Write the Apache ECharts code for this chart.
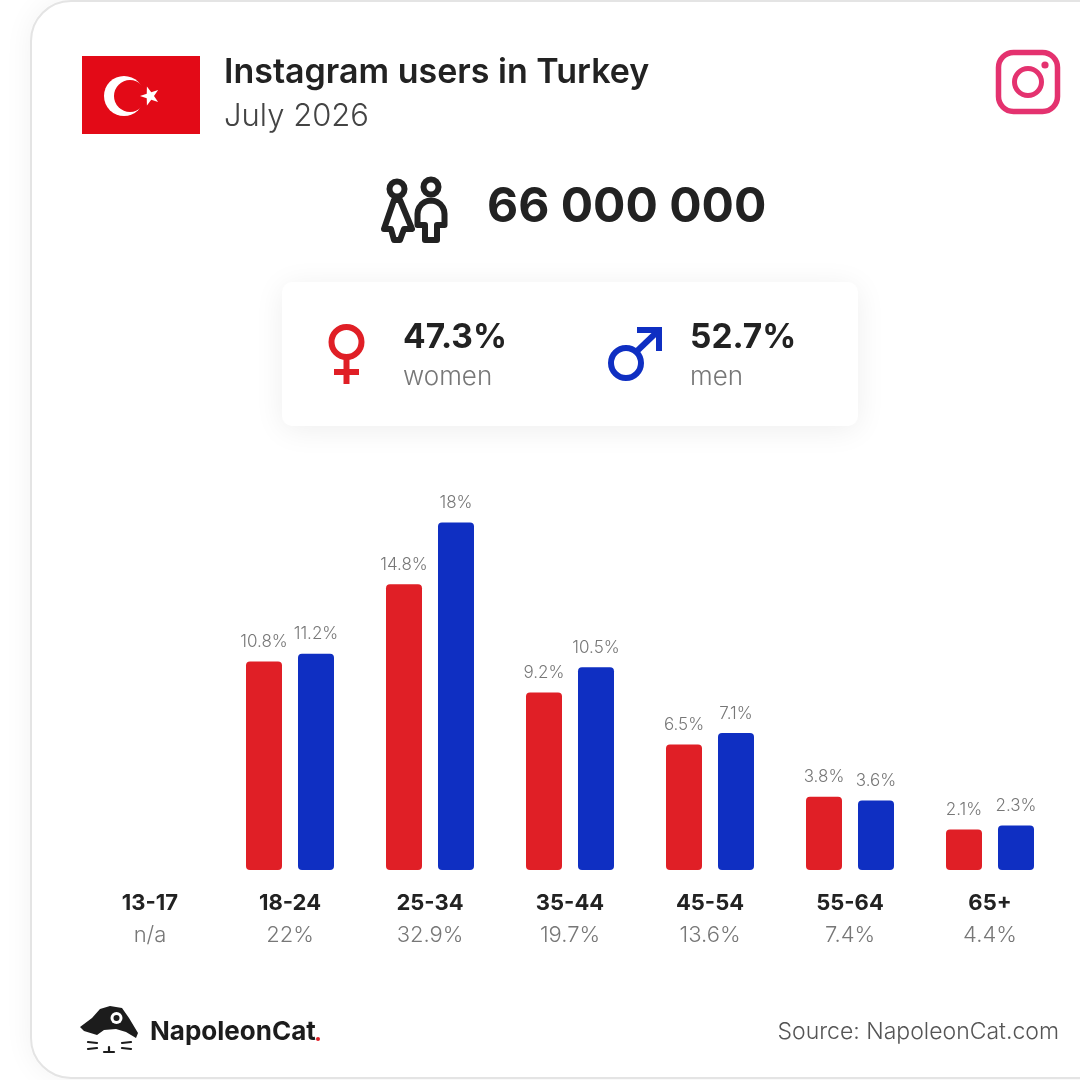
<!DOCTYPE html>
<html><head><meta charset="utf-8">
<style>html,body{margin:0;padding:0;background:#fff}#c{width:1080px;height:1080px}</style>
<script src="https://cdn.jsdelivr.net/npm/echarts@6/dist/echarts.min.js"></script>
</head><body><div id="c"></div>
<script>
const categories = ['13-17','18-24','25-34','35-44','45-54','55-64','65+'];
const shares = ['n/a','22%','32.9%','19.7%','13.6%','7.4%','4.4%'];
const women = [null,10.8,14.8,9.2,6.5,3.8,2.1];
const men = [null,11.2,18,10.5,7.1,3.6,2.3];
const womenShare = '47.3%', menShare = '52.7%', total = '66 000 000';

const RED='#e01f26', BLUE='#0f2fc2', DARK='#222222', GREY='#777777';
const FB='Inter, "Open Sans", sans-serif';
const chart = echarts.init(document.getElementById('c'), null, {renderer:'canvas', width:1080, height:1080});

function star(cx,cy,R,r,a0){const p=[];for(let i=0;i<10;i++){const a=a0+i*Math.PI/5,q=i%2?r:R;p.push([cx+q*Math.cos(a),cy+q*Math.sin(a)]);}return p;}
function txt(x,y,text,size,weight,fill,align){return {type:'text',x,y,style:{text,font:weight+' '+size+'px '+FB,fill,textAlign:align||'left',textVerticalAlign:'middle'}};}
function seg(x1,y1,x2,y2,stroke,w){return {type:'line',shape:{x1,y1,x2,y2},style:{stroke,lineWidth:w,lineCap:'round'}};}
function poly(points,style,smooth){return {type:'polygon',shape:{points,smooth:smooth||0},style};}
// man's shoulders: points round a half circle from left to right
const shoulders=[];for(let i=0;i<=12;i++){const a=Math.PI+i*Math.PI/12;shoulders.push([431+13.5*Math.cos(a),214+13.5*Math.sin(a)]);}

const graphics = [
 {type:'rect',shape:{x:31,y:1,width:1120,height:1077,r:40},style:{fill:'#fff',stroke:'#e4e4e4',lineWidth:2,shadowBlur:30,shadowColor:'rgba(0,0,0,0.06)'}},
 {type:'rect',shape:{x:82,y:56,width:118,height:78},style:{fill:'#e30a17'}},
 {type:'circle',shape:{cx:124,cy:96,r:20},style:{fill:'#fff'}},
 {type:'circle',shape:{cx:130,cy:96,r:16},style:{fill:'#e30a17'}},
 {type:'polygon',shape:{points:star(150,96,10,4,Math.PI)},style:{fill:'#fff'}},
 txt(224,73,'Instagram users in Turkey',34,600,DARK),
 txt(224,117,'July 2026',31,300,'#444'),
 {type:'rect',shape:{x:998.5,y:52.5,width:59,height:59,r:15},style:{fill:'none',stroke:'#e4326f',lineWidth:5.5}},
 {type:'circle',shape:{cx:1028,cy:82,r:13.5},style:{fill:'none',stroke:'#e4326f',lineWidth:5}},
 {type:'circle',shape:{cx:1045,cy:65,r:3.6},style:{fill:'#e4326f'}},
 // people icon
 {type:'circle',shape:{cx:397,cy:189,r:7.5},style:{fill:'none',stroke:DARK,lineWidth:6}},
 {type:'circle',shape:{cx:431,cy:187,r:7.5},style:{fill:'none',stroke:DARK,lineWidth:6}},
 poly([[394,200],[400,200],[412,229],[404,229],[400,240],[394,240],[391,229],[384,229]],{fill:'none',stroke:DARK,lineWidth:6,lineJoin:'round'}),
 poly([[425,225],[417.5,225],...shoulders,[444.5,225],[437,225],[437,240],[425,240]],{fill:'none',stroke:DARK,lineWidth:6,lineJoin:'round'}),
 txt(487,208,total,48,700,DARK),
 // stats card
 {type:'rect',shape:{x:282,y:282,width:576,height:144,r:10},style:{fill:'#fff',shadowBlur:30,shadowColor:'rgba(0,0,0,0.07)',shadowOffsetY:4}},
 {type:'circle',shape:{cx:346.5,cy:342,r:15},style:{fill:'none',stroke:RED,lineWidth:6}},
 {type:'rect',shape:{x:343.5,y:358,width:6,height:26},style:{fill:RED}},
 {type:'rect',shape:{x:334,y:369,width:25,height:6},style:{fill:RED}},
 {type:'circle',shape:{cx:626,cy:363,r:15},style:{fill:'none',stroke:BLUE,lineWidth:6}},
 {type:'line',shape:{x1:636,y1:352,x2:658,y2:331},style:{stroke:BLUE,lineWidth:6}},
 {type:'rect',shape:{x:637,y:327,width:25,height:6},style:{fill:BLUE}},
 {type:'rect',shape:{x:656,y:327,width:6,height:24},style:{fill:BLUE}},
 txt(403,338,womenShare,33.5,700,DARK),
 txt(403,377,'women',26,300,GREY),
 txt(690,338,menShare,33.5,700,DARK),
 txt(690,377,'men',26,300,GREY),
 // logo
 poly([[80,1027],[92,1018],[100,1009],[110,1006],[122,1008],[129,1018],[138,1033],[136,1038],[126,1032],[116,1029],[104,1030],[97,1035],[84,1031]],{fill:'#1c1c1c'}),
 {type:'circle',shape:{cx:116.5,cy:1018,r:6},style:{fill:'#fff'}},
 {type:'circle',shape:{cx:116.5,cy:1018,r:3},style:{fill:'#1c1c1c'}},
 seg(88,1042,97,1043,'#1c1c1c',2.2), seg(88,1049,97,1048,'#1c1c1c',2.2),
 seg(131,1042,122,1043,'#1c1c1c',2.2), seg(131,1049,122,1048,'#1c1c1c',2.2),
 seg(109,1047,109,1052,'#1c1c1c',2.2), seg(104,1052,114,1052,'#1c1c1c',2.2),
 txt(150,1032,'NapoleonCat',26,700,'#1c1c1c'),
 {type:'circle',shape:{cx:318,cy:1039,r:2},style:{fill:RED}},
 txt(1059,1032,'Source: NapoleonCat.com',23,300,'#555','right')
];

const dataLabel = {show:true,position:'top',distance:11,fontFamily:FB,fontSize:17,fontWeight:300,color:'#777',formatter:p=>p.value+'%'};
chart.setOption({
 animation:false,
 graphic:{elements:graphics},
 grid:{left:80,right:20,top:484,bottom:210},
 xAxis:{type:'category',data:categories,axisLine:{show:false},axisTick:{show:false},
  axisLabel:{interval:0,margin:17,formatter:(v,i)=>'{n|'+v+'}\n{s|'+shares[i]+'}',
   rich:{n:{fontFamily:FB,fontSize:22,fontWeight:700,color:DARK,lineHeight:32,align:'center'},
         s:{fontFamily:FB,fontSize:22,fontWeight:300,color:GREY,lineHeight:32,align:'center'}}}},
 yAxis:{type:'value',min:0,max:20,show:false},
 series:[
  {name:'women',type:'bar',data:women,barWidth:36,barGap:'44.44%',itemStyle:{color:RED,borderRadius:4},label:dataLabel},
  {name:'men',type:'bar',data:men,barWidth:36,itemStyle:{color:BLUE,borderRadius:4},label:dataLabel}
 ]
});
</script></body></html>
